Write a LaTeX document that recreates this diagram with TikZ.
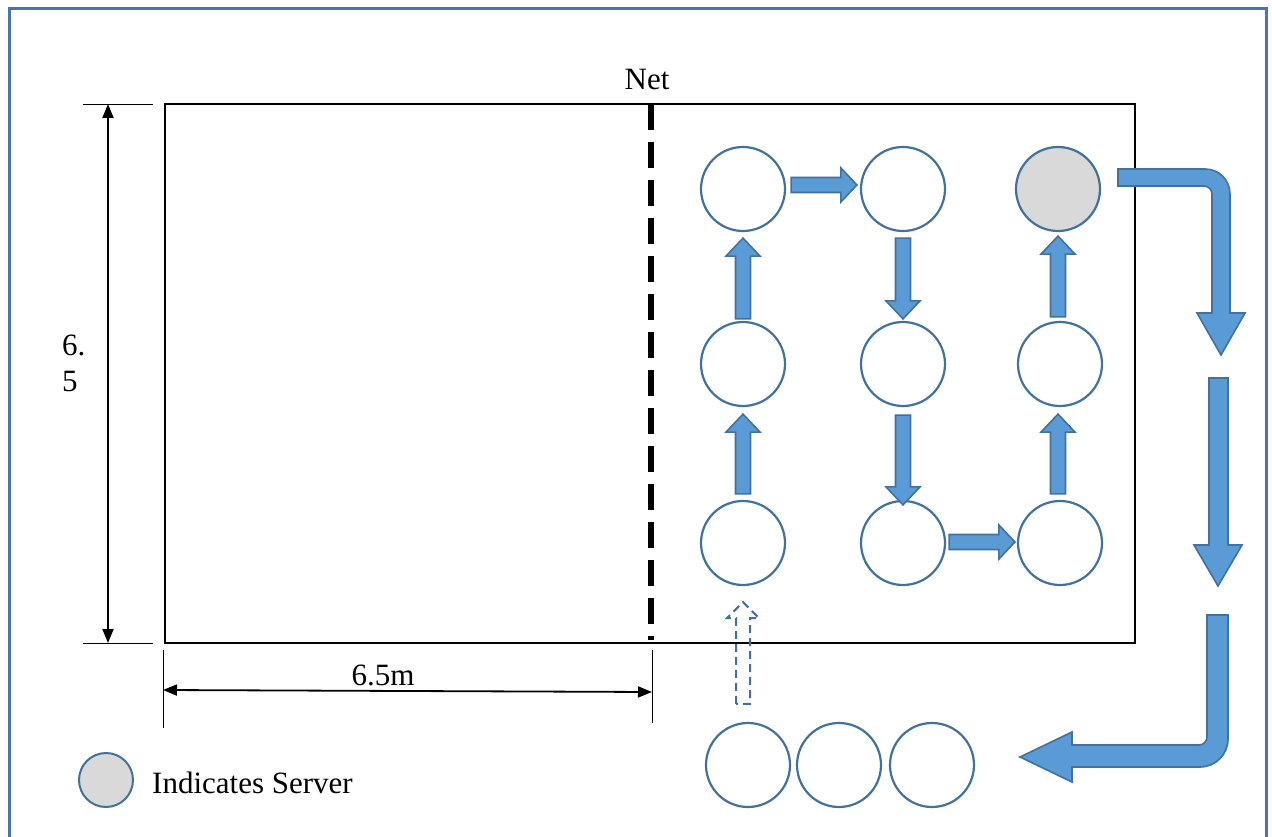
\documentclass[tikz,border=0pt]{standalone}
\usepackage{fontspec}
\setmainfont{Liberation Serif}
\usetikzlibrary{calc,arrows.meta}
\definecolor{bfill}{HTML}{5B9BD5}
\definecolor{bline}{HTML}{41719C}
\definecolor{framec}{HTML}{4A76A8}
\definecolor{srv}{HTML}{D9D9D9}
\newcommand\blockarr[6][]{%
  \path (#2) coordinate (ba-s) (#3) coordinate (ba-e);
  \draw[#1] ($(ba-s)!#4!90:(ba-e)$)
    -- ($(ba-e)!#6!(ba-s)!#4!-90:(ba-s)$)
    -- ($(ba-e)!#6!(ba-s)!#5!-90:(ba-s)$)
    -- (ba-e)
    -- ($(ba-e)!#6!(ba-s)!#5!90:(ba-s)$)
    -- ($(ba-e)!#6!(ba-s)!#4!90:(ba-s)$)
    -- ($(ba-s)!#4!-90:(ba-e)$) -- cycle;}
\tikzset{
  circ/.style={circle, draw=bline, line width=2.2pt, fill=white, minimum size=84pt, inner sep=0pt},
  blk/.style={draw=bline, fill=bfill, line width=1.6pt, line join=miter},
  dblk/.style={draw=bline, line width=2pt, dash pattern=on 8pt off 5pt, line join=miter},
  txt/.style={font=\fontsize{31pt}{36pt}\selectfont, inner sep=0pt},
  dimtip/.style={{Triangle[length=14pt,width=11pt]}-{Triangle[length=14pt,width=11pt]}},
}
\begin{document}
\begin{tikzpicture}[x=1pt, y=-1pt]
\useasboundingbox (0,0) rectangle (1272,837);
% frame
\draw[framec, line width=3pt] (9,850) -- (9,9) -- (1266,9) -- (1266,850);
% court
\draw[line width=2pt] (165,104) rectangle (1135,643);
% net
\draw[line width=6pt, dash pattern=on 26pt off 12pt] (651,104) -- (651,640);
\node[txt, anchor=base] (net) at (647,90) {Net};
% vertical dimension
\draw[line width=0.9pt] (83,104) -- (153,104);
\draw[line width=0.9pt] (83,643) -- (153,643);
\draw[line width=1.8pt, dimtip] (108,104) -- (108,643);
\node[txt, anchor=base west] (d1) at (62,355) {6.};
\node[txt, anchor=base west] (d2) at (62,391) {5};
% horizontal dimension
\draw[line width=0.9pt] (163,650) -- (163,728);
\draw[line width=0.9pt] (652,650) -- (652,723);
\draw[line width=1.8pt, dimtip] (163,690) -- (652,692);
\node[txt, anchor=base] (d3) at (383,685) {6.5m};
% players
\node[circ] (c11) at (743,189) {};
\node[circ] (c12) at (903,189) {};
\node[circ, fill=srv] (c13) at (1058,189) {};
\node[circ] (c21) at (743,364) {};
\node[circ] (c22) at (903,364) {};
\node[circ] (c23) at (1060,364) {};
\node[circ] (c31) at (743,543) {};
\node[circ] (c32) at (903,543) {};
\node[circ] (c33) at (1060,543) {};
\node[circ] (b1) at (748,765) {};
\node[circ] (b2) at (839,765) {};
\node[circ] (b3) at (932,765) {};
% rotation arrows
\blockarr[blk]{[xshift=5pt,yshift=4pt]c11.east}{[xshift=-3pt,yshift=4pt]c12.west}{7.5pt}{17pt}{16pt}
\blockarr[blk]{[yshift=-6pt]c12.south}{[yshift=2pt]c22.north}{7.5pt}{17pt}{18pt}
\blockarr[blk]{[yshift=-8pt]c22.south}{[yshift=-5pt]c32.north}{7.5pt}{17pt}{18pt}
\blockarr[blk]{[xshift=3pt,yshift=1pt]c32.east}{[xshift=-2pt,yshift=1pt]c33.west}{7.5pt}{17pt}{16pt}
\blockarr[blk]{[xshift=-2pt,yshift=6pt]c33.north}{[xshift=-2pt,yshift=-7pt]c23.south}{7.5pt}{17pt}{18pt}
\blockarr[blk]{[xshift=-2pt,yshift=4pt]c23.north}{[yshift=-4pt]c13.south}{7.5pt}{17pt}{18pt}
\blockarr[blk]{[yshift=6pt]c31.north}{[yshift=-7pt]c21.south}{7.5pt}{17pt}{18pt}
\blockarr[blk]{[yshift=2pt]c21.north}{[yshift=-6pt]c11.south}{7.5pt}{17pt}{18pt}
\blockarr[dblk]{[xshift=-5pt,yshift=18pt]b1.north}{[yshift=-16pt]c31.south}{7pt}{16pt}{16pt}
% big rotation arrows outside court
\draw[blk] (1118,169) -- (1205,169) .. controls (1219,169) and (1230,180) .. (1230,194)
  -- (1230,313) -- (1245,313) -- (1221,355) -- (1197,313) -- (1212,313) -- (1212,194)
  .. controls (1212,189.6) and (1208.4,186) .. (1204,186) -- (1118,186) -- cycle;
\draw[blk] (1209,378) -- (1228,378) -- (1228,545) -- (1242,545) -- (1218,586)
  -- (1194,545) -- (1209,545) -- cycle;
\draw[blk] (1207,615) -- (1228,615) -- (1228,739) .. controls (1228,754.5) and (1215.5,767) .. (1200,767)
  -- (1072,767) -- (1072,782) -- (1020,757) -- (1072,732) -- (1072,745) -- (1199,745)
  .. controls (1203.4,745) and (1207,741.4) .. (1207,737) -- cycle;
% legend
\node[circle, draw=bline, fill=srv, line width=2pt, minimum size=54pt, inner sep=0pt] (leg) at (106,780) {};
\node[txt, anchor=base west] (legt) at (152,793) {Indicates Server};
\end{tikzpicture}
\end{document}
